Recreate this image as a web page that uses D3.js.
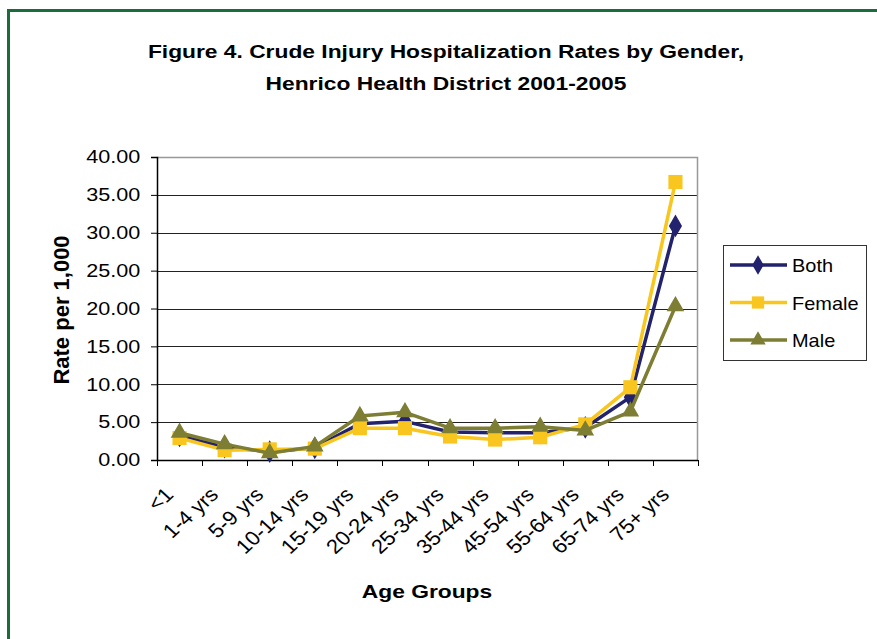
<!DOCTYPE html>
<html>
<head>
<meta charset="utf-8">
<script src="https://cdn.jsdelivr.net/npm/d3@7"></script>
<style>
  body { margin: 0; background: #fff; }
  text { font-family: Arial, "Liberation Sans", sans-serif; }
</style>
</head>
<body>
<div class="chart"></div>
<script>
var ageGroups = ["<1", "1-4 yrs", "5-9 yrs", "10-14 yrs", "15-19 yrs", "20-24 yrs",
                 "25-34 yrs", "35-44 yrs", "45-54 yrs", "55-64 yrs", "65-74 yrs", "75+ yrs"];
var both   = [3.2, 1.7, 1.1, 1.6, 4.8, 5.1, 3.7, 3.6, 3.6, 4.3, 8.3, 30.9];
var female = [2.9, 1.3, 1.4, 1.5, 4.2, 4.2, 3.1, 2.7, 3.0, 4.7, 9.6, 36.7];
var male   = [3.6, 2.1, 0.9, 1.8, 5.8, 6.3, 4.2, 4.2, 4.4, 3.9, 6.4, 20.3];
var yTicks = [0, 5, 10, 15, 20, 25, 30, 35, 40];

var series = [
    { name: "Both", values: both, color: "#22226e", symbol: d3.symbolDiamond, size: 150 },
    { name: "Female", values: female, color: "#f8c61e", symbol: d3.symbolSquare, size: 200 },
    { name: "Male", values: male, color: "#7d7d34", symbol: d3.symbolTriangle, size: 135 }
];

var W = 877, H = 639;
var margin = { top: 157, right: 179, bottom: 179, left: 157 },
    width = W - margin.left - margin.right,
    height = H - margin.top - margin.bottom;

var svg = d3.select(".chart").append("svg")
    .attr("width", W)
    .attr("height", H);

// outer frame
svg.append("rect")
    .attr("x", 8.5).attr("y", 10.5)
    .attr("width", W + 20).attr("height", H + 20)
    .attr("fill", "none")
    .attr("stroke", "#1d6b3c")
    .attr("stroke-width", 3);

// the source text is a bit wider than Arial, so stretch it
svg.append("text")
    .attr("transform", "translate(446,58) scale(1.2,1)")
    .attr("text-anchor", "middle")
    .style("font-size", "19px").style("font-weight", "bold")
    .text("Figure 4. Crude Injury Hospitalization Rates by Gender,");
svg.append("text")
    .attr("transform", "translate(446,90) scale(1.2,1)")
    .attr("text-anchor", "middle")
    .style("font-size", "19px").style("font-weight", "bold")
    .text("Henrico Health District 2001-2005");

var g = svg.append("g")
    .attr("transform", "translate(" + margin.left + "," + margin.top + ")");

var x = d3.scaleBand().domain(ageGroups).range([0, width]);
var y = d3.scaleLinear().domain([0, 40]).range([height, 0]);

// gridlines
g.selectAll(".grid")
    .data(yTicks.filter(function (d) { return d > 0 && d < 40; }))
    .enter().append("line")
    .attr("x1", 0).attr("x2", width)
    .attr("y1", function (d) { return Math.round(y(d)) + 0.5; })
    .attr("y2", function (d) { return Math.round(y(d)) + 0.5; })
    .attr("stroke", "#222")
    .attr("stroke-width", 1);

// plot border top/right
g.append("path")
    .attr("d", "M0.5,0.5H" + (width - 0.5) + "V" + height)
    .attr("fill", "none")
    .attr("stroke", "#999")
    .attr("stroke-width", 1.5);

var yAxis = d3.axisLeft(y)
    .tickValues(yTicks)
    .tickSize(6)
    .tickFormat(d3.format(".2f"));

var yg = g.append("g").call(yAxis);
yg.select(".domain").attr("stroke", "#000").attr("stroke-width", 1.5);
yg.selectAll(".tick line").attr("stroke", "#000");
yg.selectAll("text")
    .attr("x", -14)
    .attr("transform", "scale(1.2,1)")
    .style("font-size", "18px")
    .attr("fill", "#000")
    .attr("font-family", "Arial, 'Liberation Sans', sans-serif");

// x axis with ticks at band boundaries
var xg = g.append("g").attr("transform", "translate(0," + height + ")");
xg.append("line")
    .attr("x1", 0).attr("x2", width)
    .attr("y1", 0.5).attr("y2", 0.5)
    .attr("stroke", "#000").attr("stroke-width", 1.5);
xg.selectAll(".xtick")
    .data(d3.range(ageGroups.length + 1))
    .enter().append("line")
    .attr("x1", function (i) { return Math.round(i * x.step()) + 0.5; })
    .attr("x2", function (i) { return Math.round(i * x.step()) + 0.5; })
    .attr("y1", 0).attr("y2", 6)
    .attr("stroke", "#000");
xg.selectAll(".xlab")
    .data(ageGroups)
    .enter().append("text")
    .attr("text-anchor", "end")
    .attr("transform", function (d) {
        return "translate(" + (x(d) + x.bandwidth() / 2 - 5) + ",36) scale(1.1,1) rotate(-45)";
    })
    .style("font-size", "20px")
    .attr("fill", "#000")
    .text(function (d) { return d; });

// lines and markers
var line = d3.line()
    .x(function (d, i) { return x(ageGroups[i]) + x.bandwidth() / 2; })
    .y(function (d) { return y(d); });

series.forEach(function (s) {
    g.append("path")
        .datum(s.values)
        .attr("fill", "none")
        .attr("stroke", s.color)
        .attr("stroke-width", 3.5)
        .attr("stroke-linejoin", "round")
        .attr("d", line);
    g.selectAll(".m-" + s.name)
        .data(s.values)
        .enter().append("path")
        .attr("d", d3.symbol().type(s.symbol).size(s.size))
        .attr("transform", function (d, i) {
            return "translate(" + (x(ageGroups[i]) + x.bandwidth() / 2) + "," + y(d) + ")";
        })
        .attr("fill", s.color);
});

// axis titles
svg.append("text")
    .attr("transform", "translate(69,310) rotate(-90)")
    .attr("text-anchor", "middle")
    .style("font-size", "22px").style("font-weight", "bold")
    .text("Rate per 1,000");
svg.append("text")
    .attr("transform", "translate(427,598) scale(1.2,1)")
    .attr("text-anchor", "middle")
    .style("font-size", "19px").style("font-weight", "bold")
    .text("Age Groups");

// legend
var legend = svg.append("g").attr("transform", "translate(723,245)");
legend.append("rect")
    .attr("x", 0.5).attr("y", 0.5)
    .attr("width", 143).attr("height", 115)
    .attr("fill", "#fff")
    .attr("stroke", "#333");
series.forEach(function (s, i) {
    var ly = 20 + i * 37.5;
    legend.append("line")
        .attr("x1", 7).attr("x2", 64)
        .attr("y1", ly).attr("y2", ly)
        .attr("stroke", s.color).attr("stroke-width", 3.5);
    legend.append("path")
        .attr("d", d3.symbol().type(s.symbol).size(s.size * 0.75))
        .attr("transform", "translate(35," + ly + ")")
        .attr("fill", s.color);
    legend.append("text")
        .attr("transform", "translate(69," + (ly + 7) + ") scale(1.05,1)")
        .style("font-size", "19px")
        .text(s.name);
});
</script>
</body>
</html>
